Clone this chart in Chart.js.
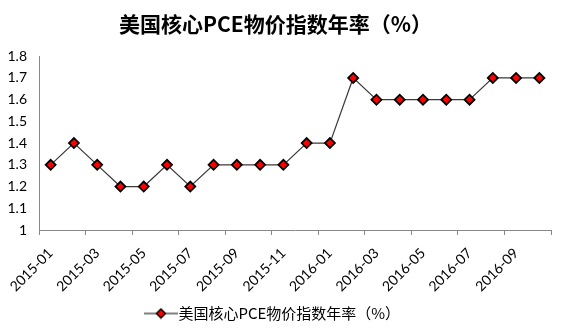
<!DOCTYPE html>
<html>
<head>
<meta charset="utf-8">
<script src="https://cdn.jsdelivr.net/npm/chart.js@4/dist/chart.umd.min.js"></script>
<style>
  html, body { margin: 0; padding: 0; background: #fff; }
  #wrap { width: 565px; height: 331px; }
</style>
</head>
<body>
<div id="wrap"><canvas id="myChart" width="565" height="331"></canvas></div>
<script>
const months = [
  "2015-01", "2015-02", "2015-03", "2015-04", "2015-05", "2015-06",
  "2015-07", "2015-08", "2015-09", "2015-10", "2015-11", "2015-12",
  "2016-01", "2016-02", "2016-03", "2016-04", "2016-05", "2016-06",
  "2016-07", "2016-08", "2016-09", "2016-10",
];
const pceValues = [
  1.3, 1.4, 1.3, 1.2, 1.2, 1.3, 1.2, 1.3, 1.3, 1.3, 1.3,
  1.4, 1.4, 1.7, 1.6, 1.6, 1.6, 1.6, 1.6, 1.7, 1.7, 1.7,
];
const seriesName = "美国核心PCE物价指数年率（%）";
const yMin = 1;
const yMax = 1.8;
const yStep = 0.1;

// legend marker: line with a red diamond
const marker = document.createElement("canvas");
marker.width = 34;
marker.height = 12;
const mctx = marker.getContext("2d");
mctx.strokeStyle = "#000";
mctx.lineWidth = 1;
mctx.beginPath();
mctx.moveTo(0, 6);
mctx.lineTo(34, 6);
mctx.stroke();
mctx.fillStyle = "#ff0000";
mctx.lineWidth = 1.5;
mctx.beginPath();
mctx.moveTo(17, 1.5);
mctx.lineTo(21.5, 6);
mctx.lineTo(17, 10.5);
mctx.lineTo(12.5, 6);
mctx.closePath();
mctx.fill();
mctx.stroke();

const ctx = document.getElementById("myChart").getContext("2d");
const myChart = new Chart(ctx, {
  type: "line",
  data: {
    labels: months,
    datasets: [
      {
        label: seriesName,
        data: pceValues,
        borderColor: "#3a3a3a",
        borderWidth: 1.2,
        pointStyle: "rectRot",
        pointRadius: 5,
        pointBackgroundColor: "#ff0000",
        pointBorderColor: "#000000",
        pointBorderWidth: 1.8,
        tension: 0,
      },
    ],
  },
  options: {
    responsive: false,
    animation: false,
    layout: { padding: { left: 0, right: 14, top: 11, bottom: 0 } },
    plugins: {
      title: {
        display: true,
        text: seriesName,
        color: "#000",
        font: { family: "'Noto Sans CJK SC'", size: 21, weight: "bold" },
        padding: { top: 0, bottom: 20 },
      },
      legend: {
        position: "bottom",
        labels: {
          usePointStyle: true,
          pointStyle: marker,
          pointStyleWidth: 20,
          color: "#000",
          font: { family: "'Noto Sans CJK SC'", size: 15 },
          padding: 10,
        },
      },
      tooltip: { enabled: false },
    },
    scales: {
      x: {
        offset: true,
        grid: {
          drawOnChartArea: false,
          offset: true,
          tickLength: 5,
          color: (c) => (c.index === undefined || c.index % 2 === 0 ? "#888888" : "rgba(0,0,0,0)"),
        },
        border: { display: true, color: "#888888" },
        ticks: {
          autoSkip: false,
          maxRotation: 45,
          minRotation: 45,
          padding: 10,
          color: "#000",
          font: { family: "Lato", size: 14 },
          callback: function (val, i) {
            return i % 2 === 0 ? this.getLabelForValue(val) : "";
          },
        },
        afterFit: (scale) => {
          scale.height = 66;
        },
      },
      y: {
        min: yMin,
        max: yMax,
        grid: { display: false, drawTicks: false },
        border: { display: true, color: "#888888" },
        ticks: {
          stepSize: yStep,
          padding: 12,
          color: "#000",
          font: { family: "Lato", size: 14 },
          callback: (v) => Math.round(v * 10) / 10,
        },
        afterFit: (scale) => {
          scale.width = 39;
        },
      },
    },
  },
});
</script>
</body>
</html>
